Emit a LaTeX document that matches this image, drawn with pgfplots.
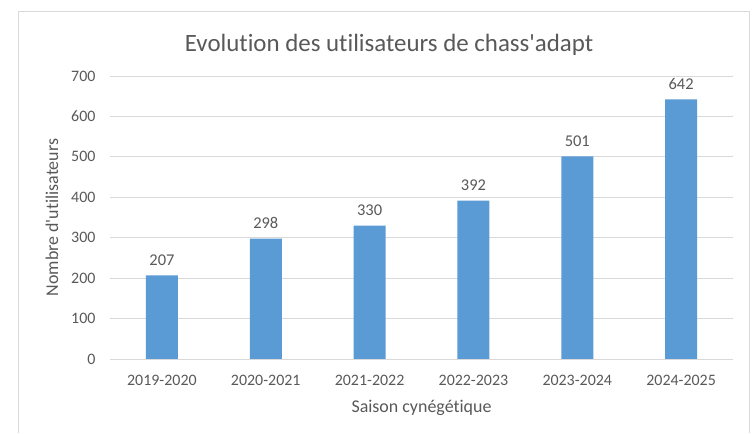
\documentclass[border=0pt]{standalone}
\usepackage{pgfplots}
\pgfplotsset{compat=1.18}
\usepackage{fontspec}
\setmainfont{Carlito}[Ligatures={NoCommon,TeXOff}]
\definecolor{barblue}{HTML}{5B9BD5}
\definecolor{txt}{HTML}{595959}
\definecolor{gridc}{HTML}{D9D9D9}
\begin{document}
\begin{tikzpicture}[x=1bp,y=1bp]
\fill[white] (0,0) rectangle (754,433);
\draw[gridc, line width=1bp] (18,0) -- (18,421) -- (749,421) -- (749,0);
\begin{axis}[
  at={(110bp,74bp)}, anchor=south west,
  scale only axis, width=623bp, height=283bp,
  xmin=-0.5, xmax=5.5, ymin=0, ymax=700,
  ybar, bar width=32bp,
  xtick={0,1,2,3,4,5},
  xticklabels={2019-2020,2020-2021,2021-2022,2022-2023,2023-2024,2024-2025},
  ytick={0,100,...,700},
  major tick length=0pt,
  axis line style={draw=none},
  ymajorgrids, grid style={gridc, line width=0.9bp},
  tick label style={font=\fontsize{16}{19}\selectfont, text=txt},
  /pgf/number format/assume math mode=true,
  xticklabel style={anchor=center, yshift=-21bp},
  yticklabel style={anchor=east, xshift=-11bp},
  title={Evolution des utilisateurs de chass'adapt},
  title style={at={(rel axis cs:0.448,1)}, anchor=center, yshift=25bp, font=\fontsize{25}{30}\selectfont, text=txt},
  xlabel={Saison cynégétique},
  xlabel style={at={(rel axis cs:0.5,0)}, anchor=center, yshift=-49bp, font=\fontsize{18}{21}\selectfont, text=txt},
  ylabel={Nombre d'utilisateurs},
  ylabel style={at={(rel axis cs:0,0.5)}, anchor=center, yshift=58bp, font=\fontsize{18}{21}\selectfont, text=txt},
  nodes near coords,
  nodes near coords style={anchor=south, yshift=6.5bp, font=\fontsize{16.5}{19}\selectfont, text=txt},
  clip=false,
]
\addplot[fill=barblue, draw=none] coordinates {(0,207) (1,298) (2,330) (3,392) (4,501) (5,642)};
\end{axis}
\end{tikzpicture}
\end{document}
